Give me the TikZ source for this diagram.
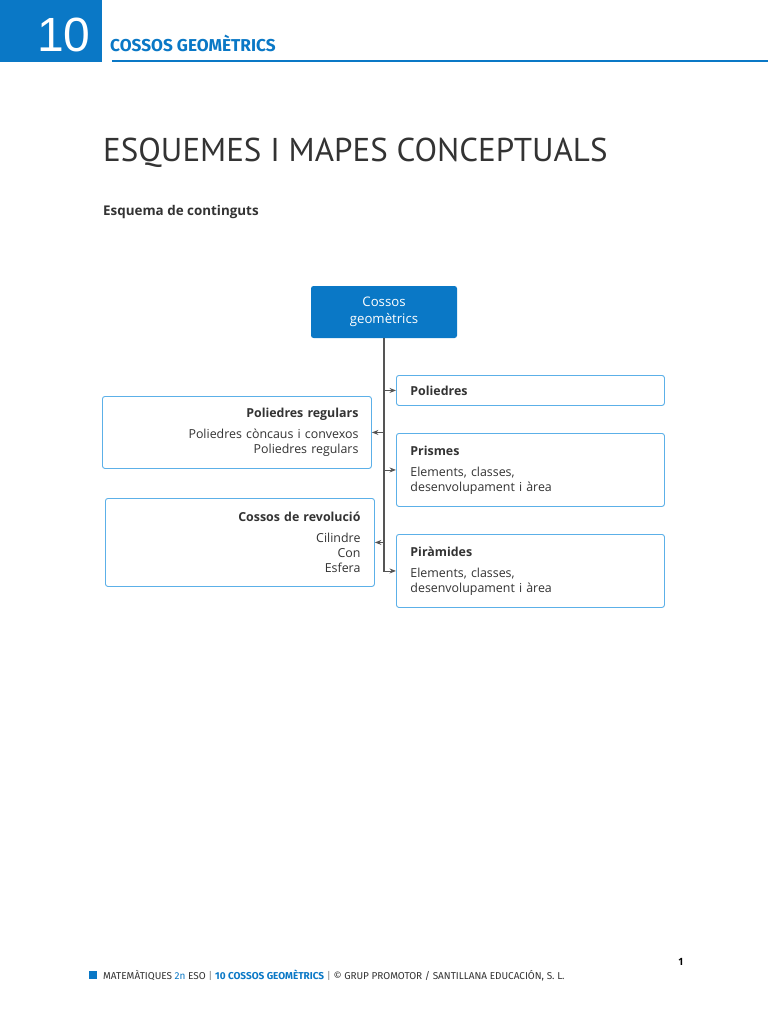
\documentclass[tikz,border=0pt]{standalone}
\usepackage{fontspec}
\setmainfont{Open Sans}
\newfontfamily\titlefont{PT Sans}
\newfontfamily\headfont{Liberation Sans}
\newfontfamily\condfont{Fira Sans}
\definecolor{cblue}{HTML}{0A78C6}
\definecolor{lblue}{HTML}{5CB0E8}
\definecolor{tgray}{HTML}{333333}
\definecolor{lgray}{HTML}{555555}
\tikzset{
  rbox/.style={draw=lblue, line width=0.9pt, rounded corners=2.5pt, fill=white, text=tgray,
    inner ysep=0pt, font=\fontsize{12.4}{15}\selectfont},
  rightbox/.style={rbox, anchor=north west, align=left, inner xsep=14pt, text width=240pt},
  leftbox/.style={rbox, anchor=north west, align=right, inner xsep=13pt},
  trunk/.style={draw=lgray, line width=1.6pt},
  arr/.style={draw=lgray, line width=0.9pt, -{Stealth[length=6.5pt,width=5pt]}},
}
\usetikzlibrary{arrows.meta}
\begin{document}
\begin{tikzpicture}[x=1pt,y=-1pt]
\useasboundingbox[fill=white] (0,0) rectangle (768,1024);
% header
\fill[cblue] (0,0) rectangle (102,62);
\node[text=white, font=\headfont\fontsize{48}{48}\selectfont, anchor=base, inner sep=0pt] (num) at (64,52) {10};
\node[text=cblue, font=\condfont\bfseries\fontsize{17.2}{17}\selectfont, anchor=base west, inner sep=0pt] (chap) at (110,52) {COSSOS GEOMÈTRICS};
\draw[cblue, line width=2pt] (112,61.5) -- (768,61.5);
% titles
\node[text=tgray, font=\titlefont\fontsize{33}{33}\selectfont, anchor=base west, inner sep=0pt] (title) at (103,162) {ESQUEMES I MAPES CONCEPTUALS};
\node[text=tgray, font=\bfseries\fontsize{13.4}{13}\selectfont, anchor=base west, inner sep=0pt] (sub) at (103,216) {Esquema de continguts};
% diagram
\node[fill=cblue, rounded corners=2.5pt, text=white, minimum width=146pt, minimum height=52pt, align=center,
  font=\fontsize{13.2}{17}\selectfont, inner sep=0pt] (cg) at (384,312) {Cossos\\geomètrics};
\node[rightbox, minimum height=30pt] (pol) at (396,375) {\textbf{Poliedres}};
\node[rightbox, minimum height=73pt] (pri) at (396,433) {\textbf{Prismes}\\[6pt]Elements, classes,\\desenvolupament i àrea};
\node[rightbox, minimum height=73pt] (pir) at (396,534) {\textbf{Piràmides}\\[6pt]Elements, classes,\\desenvolupament i àrea};
\node[leftbox, text width=243pt, minimum height=72pt] (preg) at (102,396) {\textbf{Poliedres regulars}\\[6pt]Poliedres còncaus i convexos\\Poliedres regulars};
\node[leftbox, inner xsep=14pt, text width=241pt, minimum height=88pt] (rev) at (105,498) {\textbf{Cossos de revolució}\\[6pt]Cilindre\\Con\\Esfera};
% connectors
\draw[trunk] (cg.south) -- (cg.south |- pir.west);
\draw[arr] ([xshift=-0.8pt]cg.south |- pir.west) -- (pir.west);
\draw[arr] (cg.south |- pol.west) -- (pol.west);
\draw[arr] (cg.south |- pri.west) -- (pri.west);
\draw[arr] (cg.south |- preg.east) -- (preg.east);
\draw[arr] (cg.south |- rev.east) -- (rev.east);
% footer
\fill[cblue] (89,971) rectangle (97,979);
\node[text=tgray, font=\condfont\fontsize{10}{10}\selectfont, anchor=base west, inner sep=0pt] (foot) at (103,979)
  {MATEMÀTIQUES \textcolor{cblue}{2n} ESO \textcolor{gray}{|} \textcolor{cblue}{\bfseries 10 COSSOS GEOMÈTRICS} \textcolor{gray}{|} © GRUP PROMOTOR / SANTILLANA EDUCACIÓN, S. L.};
\node[text=black, font=\bfseries\fontsize{10}{10}\selectfont, anchor=base, inner sep=0pt] (page) at (681,965) {1};
\end{tikzpicture}
\end{document}
